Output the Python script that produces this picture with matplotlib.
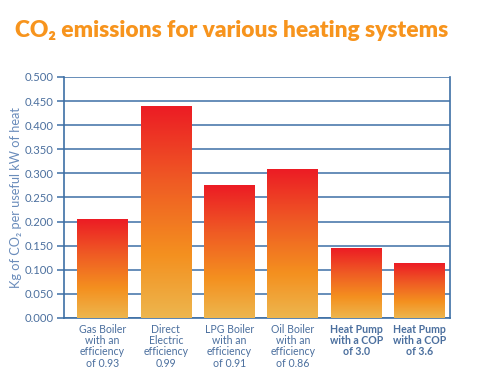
import matplotlib
matplotlib.use("Agg")
import matplotlib.pyplot as plt
import numpy as np
from matplotlib.colors import LinearSegmentedColormap

plt.rcParams['font.family'] = ['Lato', 'DejaVu Sans']

categories = ["Gas Boiler\nwith an\nefficiency\nof 0.93",
              "Direct\nElectric\nefficiency\n0.99",
              "LPG Boiler\nwith an\nefficiency\nof 0.91",
              "Oil Boiler\nwith an\nefficiency\nof 0.86",
              "Heat Pump\nwith a COP\nof 3.0",
              "Heat Pump\nwith a COP\nof 3.6"]
values = [0.205, 0.438, 0.275, 0.309, 0.145, 0.114]
bold_flags = [False, False, False, False, True, True]
yticks = [0.0, 0.05, 0.1, 0.15, 0.2, 0.25, 0.3, 0.35, 0.4, 0.45, 0.5]

blue = "#3D6FA5"
label_blue = "#4B6F9E"

fig = plt.figure(figsize=(4.97, 3.73), dpi=100)
ax = fig.add_axes([0.1288, 0.1475, 0.9054 - 0.1288, 0.7936 - 0.1475])

cmap = LinearSegmentedColormap.from_list(
    "heat", [(0.0, "#EDB64E"), (0.3, "#F4901F"), (0.65, "#EF5A24"), (1.0, "#EC1C24")])
grad = np.linspace(0, 1, 256).reshape(-1, 1)

x = np.arange(len(values))
bars = ax.bar(x, values, width=0.8, color="none", edgecolor="none", zorder=3)
for b in bars:
    x0, y0 = b.get_x(), b.get_y()
    w, h = b.get_width(), b.get_height()
    ax.imshow(grad, cmap=cmap, origin="lower", aspect="auto",
              extent=(x0, x0 + w, y0, y0 + h), zorder=3, interpolation="bilinear")

ax.set_xlim(-0.607, 5.48)
ax.set_ylim(0, 0.5)
ax.set_yticks(yticks)
ax.set_yticklabels([f"{v:.3f}" for v in yticks], color=label_blue, fontsize=8.1)
ax.yaxis.grid(True, color=blue, linewidth=1.1, zorder=0)
ax.set_axisbelow(True)
ax.tick_params(axis="y", length=5, width=1.1, color=blue, pad=2.5)
ax.tick_params(axis="x", length=0, pad=4)
ax.set_xticks(x)
ax.set_xticklabels(categories, fontsize=7.6, color=label_blue, linespacing=1.05)
for lab, bf in zip(ax.get_xticklabels(), bold_flags):
    if bf:
        lab.set_fontweight("bold")

for s in ["left", "right", "bottom"]:
    ax.spines[s].set_color(blue)
    ax.spines[s].set_linewidth(1.2)
ax.spines["top"].set_visible(False)

ax.set_ylabel("Kg of CO₂ per useful kW of heat", color="#6A8CBB", fontsize=9.2)
ax.yaxis.set_label_coords(-0.11, 0.5)

fig.text(0.03, 0.918, "CO₂ emissions for various heating systems", color="#F7941D",
         fontsize=16.4, fontweight="heavy", ha="left", va="center")

fig.savefig("out.png", dpi=100, facecolor="white")
